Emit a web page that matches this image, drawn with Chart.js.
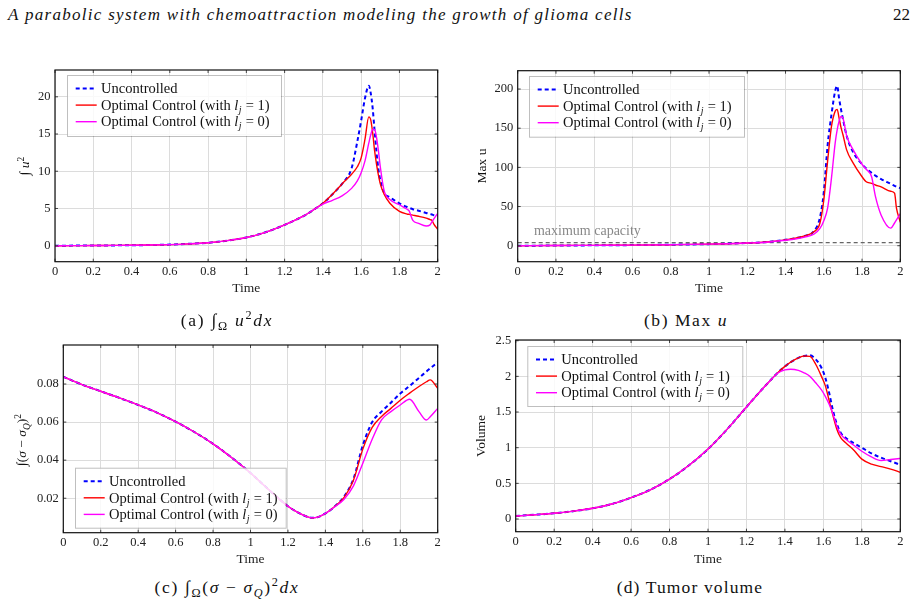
<!DOCTYPE html>
<html>
<head>
<meta charset="utf-8">
<script src="https://cdn.jsdelivr.net/npm/chart.js@4.4.1/dist/chart.umd.min.js"></script>
<style>
  body { margin: 0; background: #fff; width: 917px; height: 607px; position: relative; overflow: hidden;
         font-family: 'Liberation Serif', 'DejaVu Serif', serif; color: #111; }
  canvas { position: absolute; }
  .txt { position: absolute; white-space: nowrap; }
  .head { left: 8px; top: 6px; font-style: italic; font-size: 17px; line-height: 17px; }
  .page { right: 7px; top: 6px; font-size: 17px; line-height: 17px; }
  .ytitle { transform: translate(-50%, -50%) rotate(-90deg); font-size: 13.5px; line-height: 14px; }
  .cap { transform: translate(-50%, -50%); font-size: 17.5px; line-height: 17px; }
  i { font-style: italic; }
  sub, sup { font-size: 70%; line-height: 0; }
</style>
</head>
<body>
<div class="txt head" data-w="625">A parabolic system with chemoattraction modeling the growth of glioma cells</div>
<div class="txt page">22</div>

<canvas id="chartA" width="450" height="240" style="left:0;top:60px;width:450px;height:240px"></canvas>
<canvas id="chartB" width="457" height="240" style="left:460px;top:60px;width:457px;height:240px"></canvas>
<canvas id="chartC" width="450" height="240" style="left:0;top:330px;width:450px;height:240px"></canvas>
<canvas id="chartD" width="457" height="240" style="left:460px;top:330px;width:457px;height:240px"></canvas>

<div class="txt ytitle" style="left:25px;top:166px">∫ <i>u</i><sup>2</sup></div>
<div class="txt ytitle" style="left:482px;top:166px">Max u</div>
<div class="txt ytitle" style="left:22px;top:440px">∫(<i>σ</i> − <i>σ</i><sub><i>Q</i></sub>)<sup>2</sup></div>
<div class="txt ytitle" style="left:481px;top:436px">Volume</div>

<div class="txt cap" data-w="92" style="left:227px;top:320px">(a) ∫<sub>Ω</sub> <i>u</i><sup>2</sup><i>dx</i></div>
<div class="txt cap" data-w="84" style="left:686px;top:320px">(b) Max <i>u</i></div>
<div class="txt cap" data-w="145" style="left:227px;top:587px">(c) ∫<sub>Ω</sub>(<i>σ</i> − <i>σ</i><sub><i>Q</i></sub>)<sup>2</sup><i>dx</i></div>
<div class="txt cap" data-w="146" style="left:690px;top:587px">(d) Tumor volume</div>

<script>
// legend entries and colours (same three runs in every panel)
const seriesLabels = ['Uncontrolled', 'Optimal Control (with l_j = 1)', 'Optimal Control (with l_j = 0)'];
const seriesColors = ['#0000ff', '#ff0000', '#ff00ff'];

// (a) integral of u^2
const timeA = [0, 0.1, 0.2, 0.3, 0.4, 0.5, 0.6, 0.7, 0.8, 0.9, 1.0, 1.1, 1.2, 1.3, 1.35, 1.4, 1.45, 1.5, 1.55, 1.58,
  1.6, 1.62, 1.64, 1.65, 1.66, 1.67, 1.68, 1.69, 1.7, 1.72, 1.75, 1.8, 1.84, 1.85, 1.87, 1.9, 1.94, 1.96, 1.97, 1.98, 2.0];
const uncontrolledA = [0, 0.01, 0.02, 0.04, 0.06, 0.09, 0.15, 0.25, 0.4, 0.68, 1.1, 1.8, 2.8, 4.0, 4.8, 5.7, 6.9, 8.3, 10.4, 14.0,
  16.8, 19.8, 21.5, 20.5, 18.5, 15.5, 12.6, 10.3, 8.8, 7.1, 6.5, 5.7, 5.2, 5.1, 4.9, 4.7, 4.4, 4.25, 4.2, 4.1, 4.0];
const controlOneA = [0, 0.01, 0.02, 0.04, 0.06, 0.09, 0.15, 0.25, 0.4, 0.68, 1.1, 1.8, 2.8, 4.0, 4.8, 5.7, 6.9, 8.3, 9.6, 10.6,
  11.8, 14.3, 17.3, 16.9, 15.2, 12.8, 11.0, 9.5, 8.3, 6.9, 5.7, 4.6, 4.25, 4.2, 4.1, 3.95, 3.7, 3.5, 3.4, 2.9, 2.2];
const controlZeroA = [0, 0.01, 0.02, 0.04, 0.06, 0.09, 0.15, 0.25, 0.4, 0.68, 1.1, 1.8, 2.8, 4.0, 4.8, 5.6, 6.1, 6.7, 7.7, 8.7,
  9.8, 11.4, 13.8, 14.9, 15.6, 15.6, 14.6, 12.8, 10.6, 7.4, 6.2, 5.5, 4.9, 4.7, 3.4, 3.0, 2.65, 2.8, 3.2, 3.6, 4.35];

// (b) max u
const timeB = [0, 0.2, 0.4, 0.6, 0.8, 1.0, 1.1, 1.2, 1.3, 1.4, 1.45, 1.5, 1.55, 1.58, 1.6, 1.62, 1.64, 1.66, 1.67, 1.68,
  1.69, 1.7, 1.72, 1.75, 1.8, 1.82, 1.85, 1.87, 1.9, 1.95, 1.97, 1.98, 2.0];
const uncontrolledB = [0, 0.2, 0.5, 0.8, 1.3, 2.0, 2.6, 3.4, 4.7, 7.5, 9.5, 12.5, 19, 36, 68, 128, 167, 198, 204, 188,
  174, 162, 140, 121, 104, 99, 93, 89.5, 85, 79, 76.5, 75.5, 73.5];
const controlOneB = [0, 0.2, 0.5, 0.8, 1.3, 2.0, 2.6, 3.4, 4.7, 7.5, 9.5, 12.5, 18, 29, 58, 108, 152, 172, 174, 163,
  151, 142, 122, 107, 88, 82, 79.5, 77.5, 75, 69.5, 67, 48, 30];
const controlZeroB = [0, 0.2, 0.5, 0.8, 1.3, 2.0, 2.6, 3.4, 4.5, 7.0, 8.5, 11, 15, 22, 32, 48, 86, 132, 148, 159,
  165, 163, 140, 124, 104, 98, 88, 63, 39, 22.5, 29, 33, 41];
const capacityTime = [0, 2];
const maxCapacity = [4, 4];

// (c) integral of (sigma - sigma_Q)^2
const timeC = [0, 0.1, 0.2, 0.3, 0.4, 0.5, 0.6, 0.7, 0.8, 0.9, 1.0, 1.1, 1.2, 1.25, 1.3, 1.33, 1.36, 1.4, 1.45, 1.5,
  1.55, 1.6, 1.65, 1.7, 1.75, 1.8, 1.85, 1.9, 1.94, 1.96, 2.0];
const uncontrolledC = [0.0838, 0.0797, 0.0762, 0.0727, 0.0690, 0.0650, 0.0602, 0.0548, 0.0486, 0.0413, 0.0333, 0.0243, 0.0158,
  0.0127, 0.0104, 0.0097, 0.0101, 0.0120, 0.0157, 0.0210, 0.0302, 0.0478, 0.0600, 0.0655, 0.0702, 0.0750, 0.0790, 0.0832,
  0.0866, 0.0883, 0.0914];
const controlOneC = [0.0838, 0.0797, 0.0762, 0.0727, 0.0690, 0.0650, 0.0602, 0.0548, 0.0486, 0.0413, 0.0333, 0.0243, 0.0158,
  0.0127, 0.0104, 0.0097, 0.0101, 0.0120, 0.0157, 0.0205, 0.0295, 0.0458, 0.0572, 0.0630, 0.0672, 0.0715, 0.0752, 0.0787,
  0.0812, 0.0822, 0.0777];
const controlZeroC = [0.0838, 0.0797, 0.0762, 0.0727, 0.0690, 0.0650, 0.0602, 0.0548, 0.0486, 0.0413, 0.0333, 0.0243, 0.0158,
  0.0127, 0.0104, 0.0097, 0.0101, 0.0120, 0.0155, 0.0195, 0.0265, 0.0384, 0.0510, 0.0612, 0.0655, 0.0690, 0.0720, 0.0655,
  0.0611, 0.0628, 0.0672];

// (d) tumor volume
const timeD = [0, 0.1, 0.2, 0.3, 0.4, 0.5, 0.6, 0.7, 0.8, 0.9, 1.0, 1.1, 1.2, 1.27, 1.33, 1.36, 1.4, 1.43, 1.47, 1.5,
  1.53, 1.56, 1.59, 1.61, 1.63, 1.65, 1.67, 1.69, 1.72, 1.76, 1.8, 1.85, 1.9, 1.95, 2.0];
const uncontrolledD = [0.042, 0.06, 0.08, 0.11, 0.15, 0.21, 0.30, 0.41, 0.56, 0.75, 0.98, 1.26, 1.57, 1.785, 1.96, 2.045,
  2.14, 2.20, 2.26, 2.285, 2.295, 2.24, 2.12, 1.98, 1.77, 1.52, 1.33, 1.21, 1.13, 1.06, 1.0, 0.92, 0.86, 0.81, 0.76];
const controlOneD = [0.042, 0.06, 0.08, 0.11, 0.15, 0.21, 0.30, 0.41, 0.56, 0.75, 0.98, 1.26, 1.57, 1.785, 1.96, 2.045,
  2.14, 2.20, 2.26, 2.285, 2.28, 2.17, 2.0, 1.87, 1.66, 1.45, 1.26, 1.14, 1.06, 0.96, 0.84, 0.77, 0.735, 0.70, 0.655];
const controlZeroD = [0.042, 0.06, 0.08, 0.11, 0.15, 0.21, 0.30, 0.41, 0.56, 0.75, 0.98, 1.26, 1.57, 1.785, 1.96, 2.04,
  2.09, 2.10, 2.085, 2.05, 2.0, 1.91, 1.81, 1.72, 1.61, 1.47, 1.30, 1.19, 1.11, 1.03, 0.95, 0.87, 0.82, 0.835, 0.85];

const FONT = "'Liberation Serif', 'DejaVu Serif', serif";
const LEG_FONT = 14.5;
Chart.defaults.font.family = FONT;
Chart.defaults.color = '#222';

// "l_j" in a label is set as an italic l with a subscript j
function drawLabel(ctx, text, x, y) {
  ctx.fillStyle = '#111';
  ctx.textBaseline = 'alphabetic';
  ctx.textAlign = 'left';
  const parts = text.split('l_j');
  ctx.font = LEG_FONT + 'px ' + FONT;
  ctx.fillText(parts[0], x, y);
  x += ctx.measureText(parts[0]).width;
  if (parts.length > 1) {
    ctx.font = 'italic ' + LEG_FONT + 'px ' + FONT;
    ctx.fillText('l', x, y);
    x += ctx.measureText('l').width + 0.5;
    ctx.font = 'italic 10px ' + FONT;
    ctx.fillText('j', x, y + 3);
    x += ctx.measureText('j').width + 0.5;
    ctx.font = LEG_FONT + 'px ' + FONT;
    ctx.fillText(parts[1], x, y);
  }
}

// black frame round the plot with small inward tick marks on all sides
const framePlugin = {
  id: 'frame',
  afterDatasetsDraw(chart) {
    const {ctx, chartArea: a, scales: {x, y}} = chart;
    ctx.save();
    ctx.strokeStyle = '#444';
    ctx.lineWidth = 1;
    ctx.beginPath();
    x.ticks.forEach(t => {
      const px = x.getPixelForValue(t.value);
      ctx.moveTo(px, a.bottom); ctx.lineTo(px, a.bottom - 3);
      ctx.moveTo(px, a.top); ctx.lineTo(px, a.top + 3);
    });
    y.ticks.forEach(t => {
      const py = y.getPixelForValue(t.value);
      ctx.moveTo(a.left, py); ctx.lineTo(a.left + 3, py);
      ctx.moveTo(a.right, py); ctx.lineTo(a.right - 3, py);
    });
    ctx.stroke();
    ctx.strokeStyle = '#111';
    ctx.lineWidth = 1.2;
    ctx.strokeRect(a.left, a.top, a.right - a.left, a.bottom - a.top);
    ctx.restore();
  }
};

const capacityLabel = {
  id: 'capacityLabel',
  afterDatasetsDraw(chart) {
    const {ctx, scales: {x, y}} = chart;
    ctx.save();
    ctx.fillStyle = '#888';
    ctx.font = '14px ' + FONT;
    ctx.textBaseline = 'alphabetic';
    ctx.fillText('maximum capacity', x.getPixelForValue(0.085), y.getPixelForValue(maxCapacity[0]) - 7.5);
    ctx.restore();
  }
};

// legend box inside the plot, semi transparent like pgfplots
const boxLegend = {
  id: 'boxLegend',
  afterDatasetsDraw(chart, args, opts) {
    const {ctx} = chart;
    ctx.save();
    ctx.fillStyle = 'rgba(255,255,255,0.82)';
    ctx.fillRect(opts.x, opts.y, opts.w, opts.h);
    ctx.strokeStyle = 'rgba(0,0,0,0.25)';
    ctx.lineWidth = 1;
    ctx.strokeRect(opts.x + 0.5, opts.y + 0.5, opts.w, opts.h);
    chart.data.datasets.filter(d => d.inLegend).forEach((ds, i) => {
      const cy = opts.y + 13.5 + i * 16.6;
      ctx.strokeStyle = ds.borderColor;
      ctx.lineWidth = ds.borderWidth;
      ctx.setLineDash(ds.borderDash);
      ctx.beginPath();
      ctx.moveTo(opts.x + 8.7, cy);
      ctx.lineTo(opts.x + 29.7, cy);
      ctx.stroke();
      ctx.setLineDash([]);
      drawLabel(ctx, ds.label, opts.x + 34, cy + 4.7);
    });
    ctx.restore();
  }
};

function noScalePadding(s) {
  s.paddingLeft = 0; s.paddingRight = 0; s.paddingTop = 0; s.paddingBottom = 0;
}

function buildChart(id, o) {
  const datasets = o.series.map((ys, k) => ({
    label: seriesLabels[k],
    data: o.time.map((t, i) => ({x: t, y: ys[i]})),
    borderColor: seriesColors[k],
    borderWidth: k === 0 ? 2 : 1.4,
    borderDash: k === 0 ? [4, 3] : [],
    order: 3 - k,
    inLegend: true
  }));
  if (o.extra) datasets.push(o.extra);

  return new Chart(document.getElementById(id), {
    type: 'line',
    data: {datasets},
    options: {
      responsive: false,
      animation: false,
      devicePixelRatio: 1,
      layout: {padding: {left: 0, right: o.padRight, top: o.padTop, bottom: 0}},
      elements: {point: {radius: 0}, line: {cubicInterpolationMode: 'monotone'}},
      plugins: {legend: {display: false}, tooltip: {enabled: false}, boxLegend: o.legend},
      scales: {
        x: {
          type: 'linear', min: 0, max: 2,
          ticks: {stepSize: 0.2, includeBounds: false, maxRotation: 0, autoSkip: false, padding: 3,
                  font: {size: 12.5}, callback: v => String(+v.toFixed(1))},
          grid: {color: '#dcdcdc', drawTicks: false},
          border: {display: false},
          title: {display: true, text: 'Time', font: {size: 13.5}, padding: {top: 0, bottom: o.titlePad}},
          afterFit(s) { s.height = o.axisH; noScalePadding(s); }
        },
        y: {
          type: 'linear', min: o.yMin, max: o.yMax,
          ticks: {stepSize: o.yStep, includeBounds: false, padding: 4.5, font: {size: 12.5}, callback: o.yFmt},
          grid: {color: '#dcdcdc', drawTicks: false},
          border: {display: false},
          afterBuildTicks(s) { s.ticks = s.ticks.filter(t => t.value <= o.yTickMax); },
          afterFit(s) { s.width = o.axisW; noScalePadding(s); }
        }
      }
    },
    plugins: [framePlugin].concat(o.plugins || [], [boxLegend])
  });
}

buildChart('chartA', {
  time: timeA, series: [uncontrolledA, controlOneA, controlZeroA],
  yMin: -2.15, yMax: 23.6, yStep: 5, yTickMax: 20, yFmt: v => String(v),
  axisW: 55, axisH: 38.3, padTop: 10, padRight: 12.3, titlePad: 3.9,
  legend: {x: 67, y: 15, w: 214, h: 61}
});

buildChart('chartB', {
  time: timeB, series: [uncontrolledB, controlOneB, controlZeroB],
  yMin: -20.4, yMax: 223.4, yStep: 50, yTickMax: 200, yFmt: v => String(v),
  axisW: 57.7, axisH: 38.3, padTop: 10.7, padRight: 16.7, titlePad: 3.6,
  legend: {x: 69, y: 16, w: 215, h: 60.7},
  extra: {
    label: 'maximum capacity',
    data: capacityTime.map((t, i) => ({x: t, y: maxCapacity[i]})),
    borderColor: '#666', borderWidth: 1.3, borderDash: [4, 3], order: 4, inLegend: false
  },
  plugins: [capacityLabel]
});

buildChart('chartC', {
  time: timeC, series: [uncontrolledC, controlOneC, controlZeroC],
  yMin: 0.0019, yMax: 0.1005, yStep: 0.02, yTickMax: 0.085, yFmt: v => v.toFixed(2),
  axisW: 63.3, axisH: 37.3, padTop: 15, padRight: 12.3, titlePad: 2.6,
  legend: {x: 75, y: 137.7, w: 210.7, h: 60}
});

buildChart('chartD', {
  time: timeD, series: [uncontrolledD, controlOneD, controlZeroD],
  yMin: -0.178, yMax: 2.51, yStep: 0.5, yTickMax: 2.5, yFmt: v => String(+v.toFixed(1)),
  axisW: 55.7, axisH: 38.3, padTop: 10, padRight: 16.7, titlePad: 2.6,
  legend: {x: 67.3, y: 16, w: 215, h: 60}
});

// stretch the serif text a little to the widths of the original Computer Modern lines
document.querySelectorAll('[data-w]').forEach(el => {
  const n = el.textContent.length;
  el.style.letterSpacing = ((+el.dataset.w - el.offsetWidth) / n).toFixed(2) + 'px';
});
</script>
</body>
</html>
